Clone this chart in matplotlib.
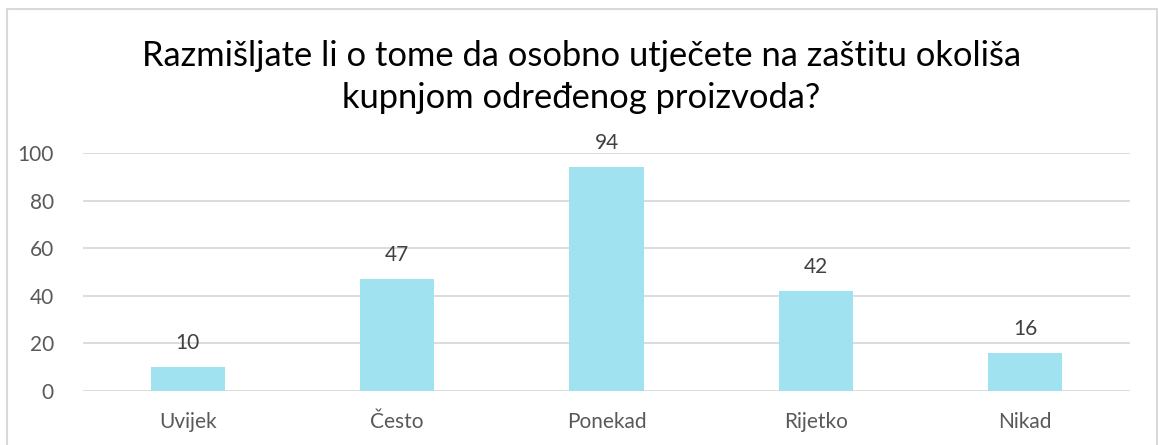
import matplotlib
matplotlib.use('Agg')
import matplotlib.pyplot as plt
from matplotlib.patches import Rectangle
import numpy as np

categories = ['Uvijek', 'Često', 'Ponekad', 'Rijetko', 'Nikad']
values = [10, 47, 94, 42, 16]
yticks = [0, 20, 40, 60, 80, 100]
title = 'Razmišljate li o tome da osobno utječete na zaštitu okoliša\nkupnjom određenog proizvoda?'

plt.rcParams['font.family'] = ['Lato', 'DejaVu Sans']

fig = plt.figure(figsize=(11.58, 4.45), dpi=100)
ax = fig.add_axes([83 / 1158, 1 - 391 / 445, 1047 / 1158, 238 / 445])

# chart border
fig.patches.append(Rectangle((6.5 / 1158, -0.05), 1150 / 1158, 1 - 8.5 / 445 + 0.05,
                             transform=fig.transFigure, fill=False,
                             edgecolor='#d9d9d9', linewidth=1.5))

x = np.arange(len(categories))
bars = ax.bar(x, values, width=0.355, color='#a0e2ef', zorder=2)
for xi, v in zip(x, values):
    ax.text(xi, v + 6, str(v), ha='center', va='bottom', fontsize=15, color='#404040')

ax.set_xlim(-0.5, len(categories) - 0.5)
ax.set_ylim(0, 100)
ax.set_yticks(yticks)
ax.set_xticks(x)
ax.set_xticklabels(categories)
ax.grid(axis='y', color='#d9d9d9', linewidth=1.3, zorder=0)
ax.set_axisbelow(True)
for s in ax.spines.values():
    s.set_visible(False)
ax.tick_params(length=0, labelsize=15, labelcolor='#595959')
ax.tick_params(axis='x', pad=15)
ax.tick_params(axis='y', pad=21)

fig.text(0.502, 1 - 77 / 445, title, ha='center', va='center', fontsize=24.8,
         color='#000000', linespacing=1.4)

fig.savefig('out.png', dpi=100)
